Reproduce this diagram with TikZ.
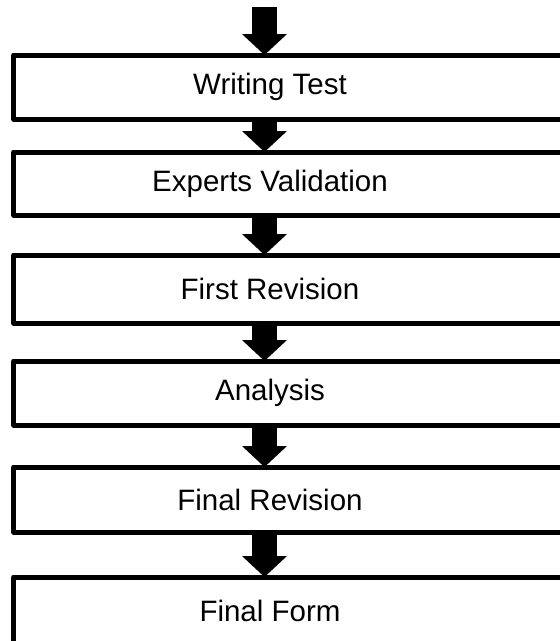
\documentclass[tikz,border=0pt]{standalone}
\usepackage{fontspec}
\setmainfont{Liberation Sans}
\usetikzlibrary{arrows.meta,positioning}

\begin{document}
\begin{tikzpicture}[x=1pt,y=-1pt,
    stage box/.style={draw,line width=5pt,line join=round,minimum width=566pt,inner sep=0pt,outer sep=0pt},
    stage text/.style={font=\fontsize{29.5pt}{34pt}\selectfont,inner sep=0pt},
    flow/.style={line width=25pt,-{Triangle[width=45pt,length=21pt,line width=0pt]}}]
                \clip (0,0) rectangle (560,641);

                \node[stage box,minimum height=64pt] (b1) at (296.75,87) {};
                \node[stage box,minimum height=63pt] (b2) [below=33pt of b1] {};
                \node[stage box,minimum height=68pt] (b3) [below=40pt of b2] {};
                \node[stage box,minimum height=64pt] (b4) [below=38pt of b3] {};
                \node[stage box,minimum height=65pt] (b5) [below=42pt of b4] {};
                \node[stage box,minimum height=68pt] (b6) [below=45pt of b5] {};

                \node[stage text] (t1) at ([xshift=-26.75pt]b1.center) {Writing Test};
                \node[stage text] (t2) at ([xshift=-26.75pt]b2.center) {Experts Validation};
                \node[stage text] (t3) at ([xshift=-26.75pt]b3.center) {First Revision};
                \node[stage text] (t4) at ([xshift=-26.75pt]b4.center) {Analysis};
                \node[stage text] (t5) at ([xshift=-26.75pt]b5.center) {Final Revision};
                \node[stage text] (t6) at ([xshift=-26.75pt]b6.center) {Final Form};

                \coordinate (start) at (264.5,7);

                \path[flow]
                    (start) edge (b1.north -| start)
                    (b1.south -| start) edge (b2.north -| start)
                    (b2.south -| start) edge (b3.north -| start)
                    (b3.south -| start) edge (b4.north -| start)
                    (b4.south -| start) edge (b5.north -| start)
                    (b5.south -| start) edge (b6.north -| start)
                ;

            \end{tikzpicture}
\end{document}
